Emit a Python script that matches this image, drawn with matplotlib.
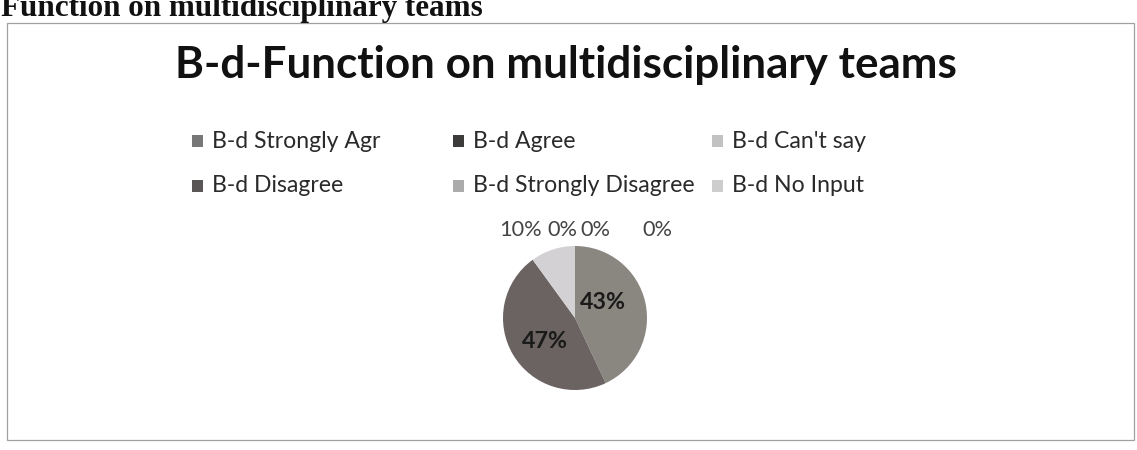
import matplotlib
matplotlib.use("Agg")
import matplotlib.pyplot as plt
from matplotlib.patches import Rectangle

# data
categories = ["B-d Strongly Agr", "B-d Agree", "B-d Can't say",
              "B-d Disagree", "B-d Strongly Disagree", "B-d No Input"]
values = [43, 47, 10, 0, 0, 0]
slice_colors = ["#8a8680", "#6a6361", "#d3d1d3", "#676262", "#a9a9a9", "#d4d4d4"]
legend_colors = ["#777777", "#3e3b3b", "#c2c2c2", "#5a5656", "#ababab", "#cdcdcd"]
title = "B-d-Function on multidisciplinary teams"
header = "Function on multidisciplinary teams"

W, H = 1137, 450
fig = plt.figure(figsize=(W / 100, H / 100), dpi=100)
fig.patch.set_facecolor("white")
renderer = fig.canvas.get_renderer()


def px(x, y):
    return x / W, 1 - y / H


def fit_size(sample, width, **kw):
    # font size that makes `sample` about `width` pixels wide
    t = fig.text(0, 0, sample, fontsize=20, **kw)
    w = t.get_window_extent(renderer).width
    t.remove()
    return 20 * width / w


# page header (cut at top of the scan)
hs = fit_size("Function on multidisciplinary", 397,
              family="Liberation Serif", weight="bold")
fig.text(*px(1, 16), header, family="Liberation Serif", weight="bold",
         fontsize=hs, color="#111111", va="baseline", ha="left")

# chart frame
fig.add_artist(Rectangle(px(7, 440), (1134 - 7) / W, (440 - 23) / H,
                         transform=fig.transFigure, fill=False,
                         edgecolor="#a0a0a0", linewidth=0.9))

# title
ts = fit_size(title, 782, family="Lato", weight="bold")
fig.text(*px(566, 78), title, family="Lato", weight="bold", fontsize=ts,
         color="#111111", ha="center", va="baseline")

# legend, laid out row by row like the original
ls = fit_size("B-d Strongly Agr", 168, family="Lato")
col_x = [192, 453, 712]
row_y = [141, 186]
for i, (name, col) in enumerate(zip(categories, legend_colors)):
    x = col_x[i % 3]
    y = row_y[i // 3]
    fig.add_artist(Rectangle(px(x, y + 6), 11 / W, 12 / H,
                             transform=fig.transFigure, facecolor=col,
                             edgecolor="none"))
    fig.text(*px(x + 20, y), name, family="Lato", fontsize=ls,
             color="#2a2a2a", ha="left", va="center")

# pie
cx, cy, r = 575, 318, 72
ax = fig.add_axes([(cx - r) / W, (H - cy - r) / H, 2 * r / W, 2 * r / H])
wedges, _ = ax.pie(values, colors=slice_colors, startangle=90,
                   counterclock=False, radius=1,
                   wedgeprops=dict(linewidth=0))
ax.set_xlim(-1, 1)
ax.set_ylim(-1, 1)
ax.set_aspect("equal")
ax.axis("off")

ins = fit_size("43%", 46, family="Lato", weight="bold")
outs = fit_size("0%", 30, family="Lato")
total = sum(values)
label_pos = [(0.39, 0.21), (-0.42, -0.33), (-0.76, 1.22),
             (-0.18, 1.22), (0.28, 1.22), (1.15, 1.22)]
for v, (lx, ly) in zip(values, label_pos):
    pct = "%d%%" % round(100 * v / total)
    inside = v / total > 0.2
    ax.text(lx, ly, pct, family="Lato", ha="center", va="center",
            fontsize=ins if inside else outs,
            weight="bold" if inside else "normal",
            color="#1a1a1a" if inside else "#444444", clip_on=False)

fig.savefig("out.png", dpi=100)
